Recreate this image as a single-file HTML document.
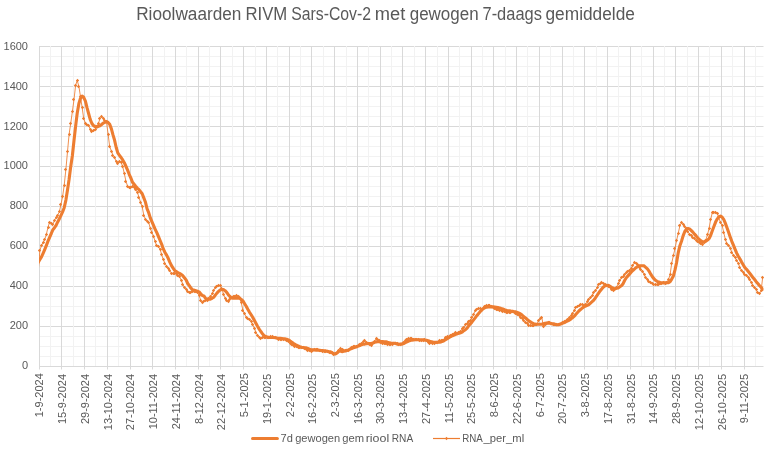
<!DOCTYPE html>
<html lang="nl"><head><meta charset="utf-8"><title>Rioolwaarden RIVM Sars-Cov-2</title>
<style>
html,body{margin:0;padding:0;background:#fff;}
body{width:774px;height:453px;overflow:hidden;}
svg{display:block;font-family:"Liberation Sans",sans-serif;}
.ax{font-size:11px;fill:#595959;}
.ttl{font-size:17.5px;fill:#595959;}
.lg{font-size:11px;fill:#595959;}
</style></head><body>
<svg width="774" height="453" viewBox="0 0 774 453">
<rect width="774" height="453" fill="#fff"/>
<path d="M39 356.5H763.5M39 346.5H763.5M39 336.5H763.5M39 316.5H763.5M39 306.5H763.5M39 296.5H763.5M39 276.5H763.5M39 266.5H763.5M39 256.5H763.5M39 236.5H763.5M39 226.5H763.5M39 216.5H763.5M39 196.5H763.5M39 186.5H763.5M39 176.5H763.5M39 156.5H763.5M39 146.5H763.5M39 136.5H763.5M39 116.5H763.5M39 106.5H763.5M39 96.5H763.5M39 76.5H763.5M39 66.5H763.5M39 56.5H763.5" stroke="#F2F2F2" stroke-width="1" fill="none"/>
<path d="M39 326.5H763.5M39 286.5H763.5M39 246.5H763.5M39 206.5H763.5M39 166.5H763.5M39 126.5H763.5M39 86.5H763.5M39 46.5H763.5" stroke="#D9D9D9" stroke-width="1" fill="none"/>
<path d="M39.5 46.0V369.5M61.5 46.0V369.5M84.5 46.0V369.5M107.5 46.0V369.5M130.5 46.0V369.5M152.5 46.0V369.5M175.5 46.0V369.5M198.5 46.0V369.5M220.5 46.0V369.5M243.5 46.0V369.5M266.5 46.0V369.5M289.5 46.0V369.5M311.5 46.0V369.5M334.5 46.0V369.5M357.5 46.0V369.5M380.5 46.0V369.5M402.5 46.0V369.5M425.5 46.0V369.5M448.5 46.0V369.5M471.5 46.0V369.5M493.5 46.0V369.5M516.5 46.0V369.5M539.5 46.0V369.5M562.5 46.0V369.5M584.5 46.0V369.5M607.5 46.0V369.5M630.5 46.0V369.5M653.5 46.0V369.5M675.5 46.0V369.5M698.5 46.0V369.5M721.5 46.0V369.5M744.5 46.0V369.5" stroke="#D9D9D9" stroke-width="1" fill="none"/>
<path d="M50.5 46.0V366.5M73.5 46.0V366.5M95.5 46.0V366.5M118.5 46.0V366.5M141.5 46.0V366.5M164.5 46.0V366.5M186.5 46.0V366.5M209.5 46.0V366.5M232.5 46.0V366.5M255.5 46.0V366.5M277.5 46.0V366.5M300.5 46.0V366.5M323.5 46.0V366.5M346.5 46.0V366.5M368.5 46.0V366.5M391.5 46.0V366.5M414.5 46.0V366.5M437.5 46.0V366.5M459.5 46.0V366.5M482.5 46.0V366.5M505.5 46.0V366.5M527.5 46.0V366.5M550.5 46.0V366.5M573.5 46.0V366.5M596.5 46.0V366.5M618.5 46.0V366.5M641.5 46.0V366.5M664.5 46.0V366.5M687.5 46.0V366.5M709.5 46.0V366.5M732.5 46.0V366.5M755.5 46.0V366.5" stroke="#F2F2F2" stroke-width="1" fill="none"/>
<path d="M39 366.5H763.5" stroke="#D9D9D9" stroke-width="1" fill="none"/>
<g class="ax" text-anchor="end">
<text x="28" y="368.9">0</text>
<text x="28" y="328.9">200</text>
<text x="28" y="288.9">400</text>
<text x="28" y="248.9">600</text>
<text x="28" y="208.9">800</text>
<text x="28" y="168.9">1000</text>
<text x="28" y="129.9">1200</text>
<text x="28" y="89.9">1400</text>
<text x="28" y="49.9">1600</text>
</g>
<g class="ax" text-anchor="end">
<text transform="translate(43.3 373.2) rotate(-90)">1-9-2024</text>
<text transform="translate(66.1 373.9) rotate(-90)">15-9-2024</text>
<text transform="translate(88.8 373.9) rotate(-90)">29-9-2024</text>
<text transform="translate(111.5 373.9) rotate(-90)">13-10-2024</text>
<text transform="translate(134.3 373.9) rotate(-90)">27-10-2024</text>
<text transform="translate(157.0 373.9) rotate(-90)">10-11-2024</text>
<text transform="translate(179.8 373.9) rotate(-90)">24-11-2024</text>
<text transform="translate(202.5 373.9) rotate(-90)">8-12-2024</text>
<text transform="translate(225.2 373.9) rotate(-90)">22-12-2024</text>
<text transform="translate(248.0 373.2) rotate(-90)">5-1-2025</text>
<text transform="translate(270.7 373.9) rotate(-90)">19-1-2025</text>
<text transform="translate(293.5 373.2) rotate(-90)">2-2-2025</text>
<text transform="translate(316.2 373.9) rotate(-90)">16-2-2025</text>
<text transform="translate(338.9 373.2) rotate(-90)">2-3-2025</text>
<text transform="translate(361.7 373.9) rotate(-90)">16-3-2025</text>
<text transform="translate(384.4 373.9) rotate(-90)">30-3-2025</text>
<text transform="translate(407.2 373.9) rotate(-90)">13-4-2025</text>
<text transform="translate(429.9 373.9) rotate(-90)">27-4-2025</text>
<text transform="translate(452.6 373.9) rotate(-90)">11-5-2025</text>
<text transform="translate(475.4 373.9) rotate(-90)">25-5-2025</text>
<text transform="translate(498.1 373.2) rotate(-90)">8-6-2025</text>
<text transform="translate(520.9 373.9) rotate(-90)">22-6-2025</text>
<text transform="translate(543.6 373.2) rotate(-90)">6-7-2025</text>
<text transform="translate(566.3 373.9) rotate(-90)">20-7-2025</text>
<text transform="translate(589.1 373.2) rotate(-90)">3-8-2025</text>
<text transform="translate(611.8 373.9) rotate(-90)">17-8-2025</text>
<text transform="translate(634.6 373.9) rotate(-90)">31-8-2025</text>
<text transform="translate(657.3 373.9) rotate(-90)">14-9-2025</text>
<text transform="translate(680.0 373.9) rotate(-90)">28-9-2025</text>
<text transform="translate(702.8 373.9) rotate(-90)">12-10-2025</text>
<text transform="translate(725.5 373.9) rotate(-90)">26-10-2025</text>
<text transform="translate(748.3 373.9) rotate(-90)">9-11-2025</text>
</g>
<clipPath id="pa"><rect x="39" y="40" width="724.5" height="330"/></clipPath>
<path clip-path="url(#pa)" d="M38.3 262.3L39.9 259.5L41.5 256.9L43.1 253.3L44.8 249.3L46.4 245.3L48.0 241.1L49.6 237.3L51.3 233.5L52.9 229.7L54.5 227.7L56.1 225.3L57.7 221.9L59.4 218.7L61.0 215.3L62.6 211.9L64.2 207.7L65.9 200.1L67.5 189.9L69.1 179.3L70.7 166.7L72.4 155.5L74.0 140.5L75.6 126.3L77.2 113.3L78.9 103.5L80.5 98.3L82.1 96.1L83.7 97.3L85.4 101.1L87.0 107.7L88.6 113.5L90.2 119.3L91.9 123.5L93.5 125.7L95.1 126.5L96.7 127.1L98.4 126.3L100.0 125.7L101.6 124.5L103.2 123.1L104.9 122.3L106.5 121.7L108.1 122.5L109.7 124.3L111.4 128.9L113.0 134.9L114.6 140.3L116.2 147.5L117.8 152.9L119.5 155.5L121.1 157.5L122.7 159.9L124.3 162.7L126.0 166.5L127.6 170.1L129.2 174.3L130.8 177.9L132.5 182.3L134.1 184.3L135.7 186.3L137.3 188.1L139.0 189.7L140.6 191.7L142.2 193.7L143.8 197.9L145.5 202.3L147.1 208.9L148.7 212.7L150.3 217.9L152.0 221.9L153.6 225.7L155.2 229.3L156.8 232.7L158.5 236.7L160.1 240.5L161.7 244.3L163.3 248.9L165.0 252.5L166.6 255.1L168.2 258.3L169.8 262.1L171.5 265.7L173.1 268.1L174.7 270.5L176.3 271.5L177.9 272.5L179.6 273.5L181.2 274.3L182.8 275.7L184.4 277.7L186.1 279.9L187.7 283.5L189.3 285.7L190.9 288.1L192.6 290.1L194.2 290.1L195.8 290.7L197.4 291.3L199.1 291.9L200.7 293.7L202.3 295.5L203.9 295.9L205.6 298.5L207.2 299.1L208.8 299.3L210.4 299.1L212.1 298.3L213.7 297.3L215.3 295.1L216.9 293.1L218.6 291.3L220.2 289.9L221.8 289.5L223.4 289.5L225.1 290.7L226.7 292.3L228.3 294.7L229.9 296.5L231.5 297.9L233.2 298.3L234.8 298.3L236.4 298.3L238.0 298.3L239.7 298.3L241.3 299.5L242.9 300.9L244.5 303.5L246.2 306.3L247.8 309.3L249.4 312.1L251.0 314.5L252.7 317.3L254.3 320.3L255.9 323.3L257.5 326.3L259.2 329.1L260.8 331.5L262.4 333.7L264.0 335.5L265.7 336.5L267.3 337.1L268.9 337.5L270.5 337.5L272.2 337.5L273.8 337.5L275.4 337.7L277.0 338.1L278.7 338.3L280.3 338.3L281.9 338.5L283.5 338.7L285.2 338.9L286.8 339.3L288.4 339.9L290.0 340.9L291.6 342.1L293.3 343.3L294.9 344.3L296.5 345.3L298.1 345.9L299.8 346.7L301.4 347.3L303.0 347.5L304.6 347.7L306.3 347.9L307.9 348.5L309.5 349.1L311.1 349.7L312.8 349.9L314.4 349.9L316.0 350.1L317.6 350.1L319.3 350.3L320.9 350.5L322.5 350.5L324.1 350.7L325.8 350.9L327.4 351.3L329.0 351.7L330.6 351.9L332.3 352.7L333.9 353.7L335.5 353.9L337.1 352.9L338.8 351.3L340.4 350.9L342.0 351.7L343.6 351.3L345.3 350.9L346.9 350.5L348.5 349.9L350.1 349.1L351.7 348.5L353.4 347.9L355.0 347.3L356.6 346.7L358.2 346.1L359.9 345.5L361.5 344.7L363.1 344.3L364.7 344.1L366.4 343.7L368.0 343.5L369.6 343.5L371.2 343.5L372.9 343.1L374.5 342.3L376.1 341.9L377.7 341.7L379.4 341.7L381.0 341.5L382.6 341.5L384.2 341.7L385.9 341.7L387.5 342.3L389.1 342.7L390.7 343.1L392.4 343.3L394.0 343.3L395.6 343.3L397.2 344.1L398.9 344.3L400.5 344.1L402.1 344.1L403.7 343.5L405.3 342.7L407.0 341.9L408.6 341.1L410.2 340.5L411.8 340.1L413.5 339.9L415.1 339.7L416.7 339.7L418.3 339.7L420.0 339.7L421.6 339.7L423.2 339.7L424.8 340.1L426.5 340.3L428.1 340.7L429.7 341.3L431.3 341.7L433.0 342.1L434.6 342.3L436.2 342.3L437.8 342.3L439.5 342.3L441.1 341.9L442.7 341.3L444.3 340.5L446.0 339.5L447.6 338.5L449.2 337.5L450.8 336.5L452.5 335.7L454.1 335.1L455.7 334.3L457.3 333.7L459.0 333.3L460.6 332.7L462.2 332.1L463.8 330.7L465.4 329.7L467.1 328.1L468.7 325.9L470.3 323.9L471.9 322.1L473.6 319.9L475.2 317.9L476.8 315.7L478.4 313.7L480.1 311.7L481.7 310.1L483.3 308.5L484.9 307.7L486.6 307.1L488.2 306.9L489.8 306.9L491.4 306.9L493.1 306.9L494.7 307.1L496.3 307.3L497.9 307.5L499.6 307.9L501.2 308.5L502.8 308.9L504.4 309.7L506.1 310.3L507.7 310.9L509.3 310.7L510.9 311.1L512.6 311.3L514.2 311.7L515.8 311.9L517.4 312.5L519.1 313.1L520.7 314.1L522.3 315.3L523.9 316.7L525.5 317.9L527.2 319.5L528.8 320.9L530.4 321.9L532.0 322.9L533.7 323.7L535.3 324.1L536.9 324.3L538.5 324.3L540.2 324.3L541.8 324.3L543.4 323.7L545.0 323.3L546.7 323.1L548.3 322.9L549.9 323.3L551.5 323.7L553.2 323.9L554.8 324.1L556.4 324.7L558.0 324.7L559.7 324.3L561.3 323.7L562.9 323.1L564.5 322.5L566.2 321.7L567.8 320.9L569.4 320.1L571.0 318.9L572.7 317.5L574.3 316.1L575.9 314.3L577.5 312.5L579.1 310.7L580.8 309.3L582.4 307.9L584.0 306.7L585.6 306.1L587.3 305.3L588.9 304.5L590.5 303.1L592.1 301.7L593.8 300.1L595.4 297.9L597.0 295.5L598.6 293.1L600.3 290.7L601.9 288.7L603.5 286.9L605.1 285.7L606.8 285.5L608.4 285.3L610.0 286.3L611.6 287.3L613.3 288.3L614.9 288.9L616.5 288.3L618.1 287.9L619.8 286.7L621.4 285.7L623.0 283.9L624.6 280.5L626.3 277.7L627.9 275.9L629.5 274.1L631.1 272.3L632.8 270.5L634.4 269.1L636.0 267.7L637.6 266.5L639.2 265.9L640.9 265.7L642.5 265.7L644.1 265.9L645.7 267.3L647.4 268.9L649.0 271.1L650.6 273.9L652.2 276.5L653.9 278.7L655.5 280.3L657.1 281.3L658.7 282.1L660.4 282.5L662.0 282.7L663.6 282.9L665.2 282.9L666.9 282.7L668.5 282.7L670.1 281.7L671.7 279.1L673.4 275.9L675.0 269.9L676.6 262.5L678.2 252.9L679.9 245.7L681.5 241.3L683.1 235.9L684.7 231.7L686.4 229.1L688.0 228.5L689.6 228.9L691.2 230.5L692.9 232.1L694.5 234.1L696.1 235.9L697.7 237.9L699.3 239.5L701.0 240.9L702.6 241.9L704.2 241.7L705.8 241.3L707.5 240.1L709.1 238.5L710.7 235.3L712.3 230.7L714.0 226.3L715.6 222.1L717.2 219.1L718.8 216.9L720.5 216.1L722.1 217.1L723.7 219.3L725.3 223.1L727.0 227.7L728.6 232.3L730.2 236.9L731.8 241.3L733.5 245.3L735.1 249.3L736.7 253.1L738.3 256.3L740.0 259.1L741.6 262.1L743.2 264.7L744.8 267.5L746.5 269.3L748.1 271.3L749.7 273.3L751.3 275.3L752.9 277.5L754.6 279.5L756.2 281.7L757.8 283.5L759.4 285.5L761.1 287.3L762.7 289.3" stroke="#ED7D31" stroke-width="3.1" fill="none" stroke-linejoin="round" stroke-linecap="round"/>
<path clip-path="url(#pa)" d="M38.3 270.5L39.9 250.5L41.5 245.5L43.1 242.3L44.8 239.3L46.4 234.3L48.0 227.1L49.6 222.3L51.3 223.1L52.9 224.5L54.5 220.3L56.1 217.3L57.7 215.1L59.4 211.7L61.0 204.3L62.6 196.5L64.2 185.3L65.9 169.3L67.5 151.5L69.1 134.3L70.7 123.5L72.4 111.5L74.0 99.5L75.6 85.5L77.2 80.3L78.9 86.5L80.5 96.7L82.1 107.3L83.7 118.5L85.4 123.3L87.0 124.5L88.6 125.3L90.2 129.1L91.9 131.9L93.5 130.7L95.1 129.3L96.7 126.5L98.4 123.5L100.0 118.5L101.6 116.9L103.2 118.3L104.9 120.1L106.5 121.9L108.1 134.3L109.7 146.5L111.4 151.1L113.0 155.3L114.6 157.3L116.2 161.9L117.8 163.5L119.5 161.1L121.1 162.5L122.7 166.5L124.3 173.5L126.0 181.5L127.6 186.1L129.2 187.3L130.8 187.7L132.5 186.1L134.1 187.1L135.7 189.3L137.3 192.1L139.0 197.3L140.6 202.5L142.2 206.9L143.8 215.3L145.5 219.5L147.1 221.1L148.7 222.3L150.3 228.5L152.0 232.5L153.6 236.3L155.2 241.9L156.8 245.9L158.5 246.9L160.1 249.3L161.7 254.7L163.3 259.7L165.0 263.5L166.6 266.1L168.2 268.7L169.8 270.7L171.5 273.3L173.1 273.7L174.7 273.5L176.3 273.5L177.9 275.1L179.6 276.9L181.2 280.1L182.8 284.3L184.4 287.3L186.1 289.5L187.7 291.3L189.3 292.7L190.9 292.5L192.6 291.5L194.2 291.1L195.8 291.9L197.4 292.5L199.1 295.5L200.7 300.3L202.3 302.9L203.9 301.3L205.6 300.5L207.2 300.1L208.8 298.5L210.4 296.9L212.1 293.9L213.7 290.5L215.3 287.3L216.9 286.1L218.6 285.7L220.2 285.9L221.8 288.3L223.4 294.1L225.1 298.1L226.7 300.3L228.3 301.7L229.9 299.3L231.5 297.5L233.2 296.7L234.8 296.1L236.4 295.9L238.0 296.5L239.7 297.7L241.3 302.9L242.9 310.1L244.5 313.7L246.2 317.1L247.8 318.7L249.4 319.7L251.0 321.5L252.7 324.5L254.3 328.1L255.9 332.3L257.5 335.1L259.2 337.1L260.8 338.1L262.4 337.7L264.0 337.5L265.7 337.5L267.3 337.3L268.9 337.1L270.5 336.9L272.2 336.7L273.8 337.1L275.4 337.9L277.0 338.7L278.7 339.3L280.3 339.3L281.9 339.3L283.5 339.3L285.2 339.7L286.8 340.3L288.4 341.9L290.0 343.3L291.6 344.9L293.3 345.7L294.9 346.3L296.5 346.9L298.1 347.9L299.8 347.7L301.4 347.5L303.0 347.5L304.6 348.1L306.3 349.3L307.9 350.5L309.5 350.7L311.1 351.1L312.8 350.5L314.4 349.7L316.0 349.1L317.6 349.1L319.3 350.1L320.9 350.7L322.5 351.1L324.1 351.3L325.8 351.3L327.4 351.9L329.0 352.5L330.6 352.9L332.3 353.9L333.9 354.3L335.5 353.9L337.1 352.3L338.8 350.7L340.4 348.9L342.0 349.3L343.6 350.1L345.3 350.1L346.9 350.1L348.5 350.1L350.1 348.9L351.7 347.7L353.4 346.3L355.0 346.7L356.6 346.9L358.2 345.9L359.9 344.9L361.5 343.7L363.1 341.9L364.7 340.9L366.4 342.1L368.0 343.1L369.6 344.1L371.2 345.7L372.9 343.9L374.5 341.3L376.1 338.9L377.7 339.7L379.4 340.9L381.0 342.3L382.6 343.5L384.2 343.7L385.9 343.7L387.5 344.1L389.1 344.5L390.7 344.7L392.4 344.3L394.0 343.9L395.6 343.7L397.2 343.7L398.9 344.5L400.5 344.3L402.1 343.7L403.7 342.5L405.3 340.9L407.0 339.7L408.6 338.9L410.2 338.3L411.8 338.3L413.5 339.1L415.1 339.5L416.7 339.5L418.3 339.9L420.0 340.5L421.6 340.9L423.2 340.3L424.8 339.7L426.5 340.9L428.1 342.3L429.7 343.7L431.3 342.9L433.0 343.3L434.6 343.5L436.2 342.9L437.8 342.1L439.5 340.9L441.1 340.5L442.7 340.1L444.3 339.1L446.0 337.7L447.6 336.9L449.2 336.1L450.8 335.1L452.5 334.1L454.1 333.3L455.7 332.9L457.3 333.1L459.0 332.7L460.6 331.3L462.2 328.5L463.8 327.7L465.4 324.9L467.1 323.3L468.7 321.7L470.3 320.5L471.9 317.9L473.6 314.5L475.2 310.3L476.8 309.3L478.4 308.3L480.1 308.9L481.7 309.3L483.3 308.5L484.9 306.9L486.6 305.7L488.2 305.7L489.8 305.5L491.4 306.5L493.1 307.3L494.7 308.3L496.3 309.3L497.9 309.9L499.6 310.3L501.2 310.7L502.8 311.1L504.4 311.5L506.1 312.1L507.7 312.5L509.3 312.3L510.9 312.3L512.6 311.9L514.2 312.1L515.8 313.1L517.4 314.1L519.1 315.5L520.7 317.1L522.3 318.7L523.9 320.5L525.5 322.3L527.2 323.7L528.8 325.1L530.4 325.9L532.0 325.9L533.7 325.5L535.3 324.9L536.9 324.5L538.5 320.5L540.2 318.9L541.8 317.1L543.4 326.7L545.0 324.9L546.7 323.5L548.3 322.1L549.9 322.1L551.5 323.7L553.2 324.9L554.8 324.9L556.4 324.9L558.0 324.9L559.7 324.3L561.3 323.5L562.9 322.7L564.5 321.9L566.2 320.5L567.8 319.1L569.4 317.7L571.0 315.5L572.7 313.1L574.3 310.3L575.9 307.9L577.5 306.3L579.1 305.3L580.8 304.5L582.4 304.5L584.0 305.3L585.6 304.5L587.3 301.7L588.9 299.7L590.5 297.7L592.1 295.5L593.8 292.1L595.4 290.3L597.0 287.9L598.6 284.3L600.3 283.3L601.9 282.9L603.5 283.7L605.1 284.7L606.8 285.5L608.4 286.1L610.0 287.1L611.6 289.1L613.3 290.5L614.9 289.7L616.5 287.5L618.1 283.9L619.8 280.5L621.4 277.9L623.0 276.7L624.6 274.1L626.3 272.9L627.9 271.3L629.5 270.5L631.1 268.7L632.8 265.5L634.4 262.9L636.0 263.1L637.6 264.9L639.2 267.1L640.9 269.1L642.5 271.1L644.1 274.5L645.7 277.3L647.4 279.5L649.0 281.1L650.6 282.1L652.2 283.3L653.9 284.3L655.5 284.9L657.1 284.9L658.7 284.5L660.4 283.9L662.0 283.1L663.6 282.7L665.2 283.1L666.9 282.1L668.5 279.5L670.1 274.7L671.7 263.3L673.4 255.3L675.0 248.9L676.6 240.3L678.2 233.5L679.9 225.7L681.5 222.9L683.1 224.3L684.7 226.1L686.4 228.7L688.0 231.9L689.6 234.1L691.2 235.9L692.9 237.5L694.5 238.9L696.1 240.3L697.7 241.5L699.3 242.5L701.0 243.5L702.6 244.1L704.2 242.3L705.8 240.1L707.5 234.7L709.1 228.3L710.7 219.3L712.3 212.7L714.0 212.3L715.6 212.1L717.2 213.1L718.8 217.7L720.5 222.7L722.1 225.3L723.7 232.3L725.3 239.3L727.0 243.9L728.6 245.9L730.2 248.1L731.8 252.3L733.5 255.1L735.1 257.9L736.7 260.3L738.3 263.1L740.0 267.9L741.6 270.3L743.2 272.3L744.8 274.3L746.5 275.9L748.1 277.3L749.7 279.5L751.3 282.3L752.9 285.1L754.6 287.3L756.2 289.9L757.8 292.5L759.4 293.3L761.1 290.9L762.7 277.3" stroke="#ED7D31" stroke-width="1" stroke-opacity="0.85" fill="none" stroke-linejoin="round"/>
<path d="M39.5 248.85l1.65 1.65l-1.65 1.65l-1.65 -1.65zM41.5 243.85l1.65 1.65l-1.65 1.65l-1.65 -1.65zM43.5 240.85l1.65 1.65l-1.65 1.65l-1.65 -1.65zM44.5 237.85l1.65 1.65l-1.65 1.65l-1.65 -1.65zM46.5 232.85l1.65 1.65l-1.65 1.65l-1.65 -1.65zM48.5 225.85l1.65 1.65l-1.65 1.65l-1.65 -1.65zM49.5 220.85l1.65 1.65l-1.65 1.65l-1.65 -1.65zM51.5 221.85l1.65 1.65l-1.65 1.65l-1.65 -1.65zM52.5 222.85l1.65 1.65l-1.65 1.65l-1.65 -1.65zM54.5 218.85l1.65 1.65l-1.65 1.65l-1.65 -1.65zM56.5 215.85l1.65 1.65l-1.65 1.65l-1.65 -1.65zM57.5 213.85l1.65 1.65l-1.65 1.65l-1.65 -1.65zM59.5 209.85l1.65 1.65l-1.65 1.65l-1.65 -1.65zM60.5 202.85l1.65 1.65l-1.65 1.65l-1.65 -1.65zM62.5 194.85l1.65 1.65l-1.65 1.65l-1.65 -1.65zM64.5 183.85l1.65 1.65l-1.65 1.65l-1.65 -1.65zM65.5 167.85l1.65 1.65l-1.65 1.65l-1.65 -1.65zM67.5 149.85l1.65 1.65l-1.65 1.65l-1.65 -1.65zM69.5 132.85l1.65 1.65l-1.65 1.65l-1.65 -1.65zM70.5 121.85l1.65 1.65l-1.65 1.65l-1.65 -1.65zM72.5 109.85l1.65 1.65l-1.65 1.65l-1.65 -1.65zM73.5 97.85l1.65 1.65l-1.65 1.65l-1.65 -1.65zM75.5 83.85l1.65 1.65l-1.65 1.65l-1.65 -1.65zM77.5 78.85l1.65 1.65l-1.65 1.65l-1.65 -1.65zM78.5 84.85l1.65 1.65l-1.65 1.65l-1.65 -1.65zM80.5 94.85l1.65 1.65l-1.65 1.65l-1.65 -1.65zM82.5 105.85l1.65 1.65l-1.65 1.65l-1.65 -1.65zM83.5 116.85l1.65 1.65l-1.65 1.65l-1.65 -1.65zM85.5 121.85l1.65 1.65l-1.65 1.65l-1.65 -1.65zM86.5 122.85l1.65 1.65l-1.65 1.65l-1.65 -1.65zM88.5 123.85l1.65 1.65l-1.65 1.65l-1.65 -1.65zM90.5 127.85l1.65 1.65l-1.65 1.65l-1.65 -1.65zM91.5 129.85l1.65 1.65l-1.65 1.65l-1.65 -1.65zM93.5 128.85l1.65 1.65l-1.65 1.65l-1.65 -1.65zM95.5 127.85l1.65 1.65l-1.65 1.65l-1.65 -1.65zM96.5 124.85l1.65 1.65l-1.65 1.65l-1.65 -1.65zM98.5 121.85l1.65 1.65l-1.65 1.65l-1.65 -1.65zM99.5 116.85l1.65 1.65l-1.65 1.65l-1.65 -1.65zM101.5 114.85l1.65 1.65l-1.65 1.65l-1.65 -1.65zM103.5 116.85l1.65 1.65l-1.65 1.65l-1.65 -1.65zM104.5 118.85l1.65 1.65l-1.65 1.65l-1.65 -1.65zM106.5 119.85l1.65 1.65l-1.65 1.65l-1.65 -1.65zM108.5 132.85l1.65 1.65l-1.65 1.65l-1.65 -1.65zM109.5 144.85l1.65 1.65l-1.65 1.65l-1.65 -1.65zM111.5 149.85l1.65 1.65l-1.65 1.65l-1.65 -1.65zM112.5 153.85l1.65 1.65l-1.65 1.65l-1.65 -1.65zM114.5 155.85l1.65 1.65l-1.65 1.65l-1.65 -1.65zM116.5 159.85l1.65 1.65l-1.65 1.65l-1.65 -1.65zM117.5 161.85l1.65 1.65l-1.65 1.65l-1.65 -1.65zM119.5 159.85l1.65 1.65l-1.65 1.65l-1.65 -1.65zM121.5 160.85l1.65 1.65l-1.65 1.65l-1.65 -1.65zM122.5 164.85l1.65 1.65l-1.65 1.65l-1.65 -1.65zM124.5 171.85l1.65 1.65l-1.65 1.65l-1.65 -1.65zM125.5 179.85l1.65 1.65l-1.65 1.65l-1.65 -1.65zM127.5 184.85l1.65 1.65l-1.65 1.65l-1.65 -1.65zM129.5 185.85l1.65 1.65l-1.65 1.65l-1.65 -1.65zM130.5 185.85l1.65 1.65l-1.65 1.65l-1.65 -1.65zM132.5 184.85l1.65 1.65l-1.65 1.65l-1.65 -1.65zM134.5 185.85l1.65 1.65l-1.65 1.65l-1.65 -1.65zM135.5 187.85l1.65 1.65l-1.65 1.65l-1.65 -1.65zM137.5 190.85l1.65 1.65l-1.65 1.65l-1.65 -1.65zM138.5 195.85l1.65 1.65l-1.65 1.65l-1.65 -1.65zM140.5 200.85l1.65 1.65l-1.65 1.65l-1.65 -1.65zM142.5 204.85l1.65 1.65l-1.65 1.65l-1.65 -1.65zM143.5 213.85l1.65 1.65l-1.65 1.65l-1.65 -1.65zM145.5 217.85l1.65 1.65l-1.65 1.65l-1.65 -1.65zM147.5 219.85l1.65 1.65l-1.65 1.65l-1.65 -1.65zM148.5 220.85l1.65 1.65l-1.65 1.65l-1.65 -1.65zM150.5 226.85l1.65 1.65l-1.65 1.65l-1.65 -1.65zM151.5 230.85l1.65 1.65l-1.65 1.65l-1.65 -1.65zM153.5 234.85l1.65 1.65l-1.65 1.65l-1.65 -1.65zM155.5 239.85l1.65 1.65l-1.65 1.65l-1.65 -1.65zM156.5 243.85l1.65 1.65l-1.65 1.65l-1.65 -1.65zM158.5 244.85l1.65 1.65l-1.65 1.65l-1.65 -1.65zM160.5 247.85l1.65 1.65l-1.65 1.65l-1.65 -1.65zM161.5 252.85l1.65 1.65l-1.65 1.65l-1.65 -1.65zM163.5 257.85l1.65 1.65l-1.65 1.65l-1.65 -1.65zM164.5 261.85l1.65 1.65l-1.65 1.65l-1.65 -1.65zM166.5 264.85l1.65 1.65l-1.65 1.65l-1.65 -1.65zM168.5 266.85l1.65 1.65l-1.65 1.65l-1.65 -1.65zM169.5 268.85l1.65 1.65l-1.65 1.65l-1.65 -1.65zM171.5 271.85l1.65 1.65l-1.65 1.65l-1.65 -1.65zM173.5 271.85l1.65 1.65l-1.65 1.65l-1.65 -1.65zM174.5 271.85l1.65 1.65l-1.65 1.65l-1.65 -1.65zM176.5 271.85l1.65 1.65l-1.65 1.65l-1.65 -1.65zM177.5 273.85l1.65 1.65l-1.65 1.65l-1.65 -1.65zM179.5 274.85l1.65 1.65l-1.65 1.65l-1.65 -1.65zM181.5 278.85l1.65 1.65l-1.65 1.65l-1.65 -1.65zM182.5 282.85l1.65 1.65l-1.65 1.65l-1.65 -1.65zM184.5 285.85l1.65 1.65l-1.65 1.65l-1.65 -1.65zM186.5 287.85l1.65 1.65l-1.65 1.65l-1.65 -1.65zM187.5 289.85l1.65 1.65l-1.65 1.65l-1.65 -1.65zM189.5 290.85l1.65 1.65l-1.65 1.65l-1.65 -1.65zM190.5 290.85l1.65 1.65l-1.65 1.65l-1.65 -1.65zM192.5 289.85l1.65 1.65l-1.65 1.65l-1.65 -1.65zM194.5 289.85l1.65 1.65l-1.65 1.65l-1.65 -1.65zM195.5 289.85l1.65 1.65l-1.65 1.65l-1.65 -1.65zM197.5 290.85l1.65 1.65l-1.65 1.65l-1.65 -1.65zM199.5 293.85l1.65 1.65l-1.65 1.65l-1.65 -1.65zM200.5 298.85l1.65 1.65l-1.65 1.65l-1.65 -1.65zM202.5 300.85l1.65 1.65l-1.65 1.65l-1.65 -1.65zM203.5 299.85l1.65 1.65l-1.65 1.65l-1.65 -1.65zM205.5 298.85l1.65 1.65l-1.65 1.65l-1.65 -1.65zM207.5 298.85l1.65 1.65l-1.65 1.65l-1.65 -1.65zM208.5 296.85l1.65 1.65l-1.65 1.65l-1.65 -1.65zM210.5 294.85l1.65 1.65l-1.65 1.65l-1.65 -1.65zM212.5 291.85l1.65 1.65l-1.65 1.65l-1.65 -1.65zM213.5 288.85l1.65 1.65l-1.65 1.65l-1.65 -1.65zM215.5 285.85l1.65 1.65l-1.65 1.65l-1.65 -1.65zM216.5 284.85l1.65 1.65l-1.65 1.65l-1.65 -1.65zM218.5 283.85l1.65 1.65l-1.65 1.65l-1.65 -1.65zM220.5 283.85l1.65 1.65l-1.65 1.65l-1.65 -1.65zM221.5 286.85l1.65 1.65l-1.65 1.65l-1.65 -1.65zM223.5 292.85l1.65 1.65l-1.65 1.65l-1.65 -1.65zM225.5 296.85l1.65 1.65l-1.65 1.65l-1.65 -1.65zM226.5 298.85l1.65 1.65l-1.65 1.65l-1.65 -1.65zM228.5 299.85l1.65 1.65l-1.65 1.65l-1.65 -1.65zM229.5 297.85l1.65 1.65l-1.65 1.65l-1.65 -1.65zM231.5 295.85l1.65 1.65l-1.65 1.65l-1.65 -1.65zM233.5 294.85l1.65 1.65l-1.65 1.65l-1.65 -1.65zM234.5 294.85l1.65 1.65l-1.65 1.65l-1.65 -1.65zM236.5 293.85l1.65 1.65l-1.65 1.65l-1.65 -1.65zM238.5 294.85l1.65 1.65l-1.65 1.65l-1.65 -1.65zM239.5 295.85l1.65 1.65l-1.65 1.65l-1.65 -1.65zM241.5 300.85l1.65 1.65l-1.65 1.65l-1.65 -1.65zM242.5 308.85l1.65 1.65l-1.65 1.65l-1.65 -1.65zM244.5 311.85l1.65 1.65l-1.65 1.65l-1.65 -1.65zM246.5 315.85l1.65 1.65l-1.65 1.65l-1.65 -1.65zM247.5 316.85l1.65 1.65l-1.65 1.65l-1.65 -1.65zM249.5 317.85l1.65 1.65l-1.65 1.65l-1.65 -1.65zM251.5 319.85l1.65 1.65l-1.65 1.65l-1.65 -1.65zM252.5 322.85l1.65 1.65l-1.65 1.65l-1.65 -1.65zM254.5 326.85l1.65 1.65l-1.65 1.65l-1.65 -1.65zM255.5 330.85l1.65 1.65l-1.65 1.65l-1.65 -1.65zM257.5 333.85l1.65 1.65l-1.65 1.65l-1.65 -1.65zM259.5 335.85l1.65 1.65l-1.65 1.65l-1.65 -1.65zM260.5 336.85l1.65 1.65l-1.65 1.65l-1.65 -1.65zM262.5 335.85l1.65 1.65l-1.65 1.65l-1.65 -1.65zM264.5 335.85l1.65 1.65l-1.65 1.65l-1.65 -1.65zM265.5 335.85l1.65 1.65l-1.65 1.65l-1.65 -1.65zM267.5 335.85l1.65 1.65l-1.65 1.65l-1.65 -1.65zM268.5 335.85l1.65 1.65l-1.65 1.65l-1.65 -1.65zM270.5 334.85l1.65 1.65l-1.65 1.65l-1.65 -1.65zM272.5 334.85l1.65 1.65l-1.65 1.65l-1.65 -1.65zM273.5 335.85l1.65 1.65l-1.65 1.65l-1.65 -1.65zM275.5 335.85l1.65 1.65l-1.65 1.65l-1.65 -1.65zM277.5 336.85l1.65 1.65l-1.65 1.65l-1.65 -1.65zM278.5 337.85l1.65 1.65l-1.65 1.65l-1.65 -1.65zM280.5 337.85l1.65 1.65l-1.65 1.65l-1.65 -1.65zM281.5 337.85l1.65 1.65l-1.65 1.65l-1.65 -1.65zM283.5 337.85l1.65 1.65l-1.65 1.65l-1.65 -1.65zM285.5 337.85l1.65 1.65l-1.65 1.65l-1.65 -1.65zM286.5 338.85l1.65 1.65l-1.65 1.65l-1.65 -1.65zM288.5 339.85l1.65 1.65l-1.65 1.65l-1.65 -1.65zM290.5 341.85l1.65 1.65l-1.65 1.65l-1.65 -1.65zM291.5 342.85l1.65 1.65l-1.65 1.65l-1.65 -1.65zM293.5 343.85l1.65 1.65l-1.65 1.65l-1.65 -1.65zM294.5 344.85l1.65 1.65l-1.65 1.65l-1.65 -1.65zM296.5 344.85l1.65 1.65l-1.65 1.65l-1.65 -1.65zM298.5 345.85l1.65 1.65l-1.65 1.65l-1.65 -1.65zM299.5 345.85l1.65 1.65l-1.65 1.65l-1.65 -1.65zM301.5 345.85l1.65 1.65l-1.65 1.65l-1.65 -1.65zM303.5 345.85l1.65 1.65l-1.65 1.65l-1.65 -1.65zM304.5 346.85l1.65 1.65l-1.65 1.65l-1.65 -1.65zM306.5 347.85l1.65 1.65l-1.65 1.65l-1.65 -1.65zM307.5 348.85l1.65 1.65l-1.65 1.65l-1.65 -1.65zM309.5 348.85l1.65 1.65l-1.65 1.65l-1.65 -1.65zM311.5 349.85l1.65 1.65l-1.65 1.65l-1.65 -1.65zM312.5 348.85l1.65 1.65l-1.65 1.65l-1.65 -1.65zM314.5 347.85l1.65 1.65l-1.65 1.65l-1.65 -1.65zM316.5 347.85l1.65 1.65l-1.65 1.65l-1.65 -1.65zM317.5 347.85l1.65 1.65l-1.65 1.65l-1.65 -1.65zM319.5 348.85l1.65 1.65l-1.65 1.65l-1.65 -1.65zM320.5 348.85l1.65 1.65l-1.65 1.65l-1.65 -1.65zM322.5 349.85l1.65 1.65l-1.65 1.65l-1.65 -1.65zM324.5 349.85l1.65 1.65l-1.65 1.65l-1.65 -1.65zM325.5 349.85l1.65 1.65l-1.65 1.65l-1.65 -1.65zM327.5 349.85l1.65 1.65l-1.65 1.65l-1.65 -1.65zM329.5 350.85l1.65 1.65l-1.65 1.65l-1.65 -1.65zM330.5 350.85l1.65 1.65l-1.65 1.65l-1.65 -1.65zM332.5 351.85l1.65 1.65l-1.65 1.65l-1.65 -1.65zM333.5 352.85l1.65 1.65l-1.65 1.65l-1.65 -1.65zM335.5 351.85l1.65 1.65l-1.65 1.65l-1.65 -1.65zM337.5 350.85l1.65 1.65l-1.65 1.65l-1.65 -1.65zM338.5 348.85l1.65 1.65l-1.65 1.65l-1.65 -1.65zM340.5 346.85l1.65 1.65l-1.65 1.65l-1.65 -1.65zM342.5 347.85l1.65 1.65l-1.65 1.65l-1.65 -1.65zM343.5 348.85l1.65 1.65l-1.65 1.65l-1.65 -1.65zM345.5 348.85l1.65 1.65l-1.65 1.65l-1.65 -1.65zM346.5 348.85l1.65 1.65l-1.65 1.65l-1.65 -1.65zM348.5 348.85l1.65 1.65l-1.65 1.65l-1.65 -1.65zM350.5 346.85l1.65 1.65l-1.65 1.65l-1.65 -1.65zM351.5 345.85l1.65 1.65l-1.65 1.65l-1.65 -1.65zM353.5 344.85l1.65 1.65l-1.65 1.65l-1.65 -1.65zM354.5 344.85l1.65 1.65l-1.65 1.65l-1.65 -1.65zM356.5 344.85l1.65 1.65l-1.65 1.65l-1.65 -1.65zM358.5 343.85l1.65 1.65l-1.65 1.65l-1.65 -1.65zM359.5 342.85l1.65 1.65l-1.65 1.65l-1.65 -1.65zM361.5 341.85l1.65 1.65l-1.65 1.65l-1.65 -1.65zM363.5 339.85l1.65 1.65l-1.65 1.65l-1.65 -1.65zM364.5 338.85l1.65 1.65l-1.65 1.65l-1.65 -1.65zM366.5 340.85l1.65 1.65l-1.65 1.65l-1.65 -1.65zM367.5 341.85l1.65 1.65l-1.65 1.65l-1.65 -1.65zM369.5 342.85l1.65 1.65l-1.65 1.65l-1.65 -1.65zM371.5 343.85l1.65 1.65l-1.65 1.65l-1.65 -1.65zM372.5 341.85l1.65 1.65l-1.65 1.65l-1.65 -1.65zM374.5 339.85l1.65 1.65l-1.65 1.65l-1.65 -1.65zM376.5 336.85l1.65 1.65l-1.65 1.65l-1.65 -1.65zM377.5 337.85l1.65 1.65l-1.65 1.65l-1.65 -1.65zM379.5 338.85l1.65 1.65l-1.65 1.65l-1.65 -1.65zM380.5 340.85l1.65 1.65l-1.65 1.65l-1.65 -1.65zM382.5 341.85l1.65 1.65l-1.65 1.65l-1.65 -1.65zM384.5 341.85l1.65 1.65l-1.65 1.65l-1.65 -1.65zM385.5 341.85l1.65 1.65l-1.65 1.65l-1.65 -1.65zM387.5 342.85l1.65 1.65l-1.65 1.65l-1.65 -1.65zM389.5 342.85l1.65 1.65l-1.65 1.65l-1.65 -1.65zM390.5 342.85l1.65 1.65l-1.65 1.65l-1.65 -1.65zM392.5 342.85l1.65 1.65l-1.65 1.65l-1.65 -1.65zM393.5 341.85l1.65 1.65l-1.65 1.65l-1.65 -1.65zM395.5 341.85l1.65 1.65l-1.65 1.65l-1.65 -1.65zM397.5 341.85l1.65 1.65l-1.65 1.65l-1.65 -1.65zM398.5 342.85l1.65 1.65l-1.65 1.65l-1.65 -1.65zM400.5 342.85l1.65 1.65l-1.65 1.65l-1.65 -1.65zM402.5 341.85l1.65 1.65l-1.65 1.65l-1.65 -1.65zM403.5 340.85l1.65 1.65l-1.65 1.65l-1.65 -1.65zM405.5 338.85l1.65 1.65l-1.65 1.65l-1.65 -1.65zM406.5 337.85l1.65 1.65l-1.65 1.65l-1.65 -1.65zM408.5 336.85l1.65 1.65l-1.65 1.65l-1.65 -1.65zM410.5 336.85l1.65 1.65l-1.65 1.65l-1.65 -1.65zM411.5 336.85l1.65 1.65l-1.65 1.65l-1.65 -1.65zM413.5 337.85l1.65 1.65l-1.65 1.65l-1.65 -1.65zM415.5 337.85l1.65 1.65l-1.65 1.65l-1.65 -1.65zM416.5 337.85l1.65 1.65l-1.65 1.65l-1.65 -1.65zM418.5 337.85l1.65 1.65l-1.65 1.65l-1.65 -1.65zM419.5 338.85l1.65 1.65l-1.65 1.65l-1.65 -1.65zM421.5 338.85l1.65 1.65l-1.65 1.65l-1.65 -1.65zM423.5 338.85l1.65 1.65l-1.65 1.65l-1.65 -1.65zM424.5 337.85l1.65 1.65l-1.65 1.65l-1.65 -1.65zM426.5 338.85l1.65 1.65l-1.65 1.65l-1.65 -1.65zM428.5 340.85l1.65 1.65l-1.65 1.65l-1.65 -1.65zM429.5 341.85l1.65 1.65l-1.65 1.65l-1.65 -1.65zM431.5 340.85l1.65 1.65l-1.65 1.65l-1.65 -1.65zM432.5 341.85l1.65 1.65l-1.65 1.65l-1.65 -1.65zM434.5 341.85l1.65 1.65l-1.65 1.65l-1.65 -1.65zM436.5 340.85l1.65 1.65l-1.65 1.65l-1.65 -1.65zM437.5 340.85l1.65 1.65l-1.65 1.65l-1.65 -1.65zM439.5 338.85l1.65 1.65l-1.65 1.65l-1.65 -1.65zM441.5 338.85l1.65 1.65l-1.65 1.65l-1.65 -1.65zM442.5 338.85l1.65 1.65l-1.65 1.65l-1.65 -1.65zM444.5 337.85l1.65 1.65l-1.65 1.65l-1.65 -1.65zM445.5 335.85l1.65 1.65l-1.65 1.65l-1.65 -1.65zM447.5 334.85l1.65 1.65l-1.65 1.65l-1.65 -1.65zM449.5 334.85l1.65 1.65l-1.65 1.65l-1.65 -1.65zM450.5 333.85l1.65 1.65l-1.65 1.65l-1.65 -1.65zM452.5 332.85l1.65 1.65l-1.65 1.65l-1.65 -1.65zM454.5 331.85l1.65 1.65l-1.65 1.65l-1.65 -1.65zM455.5 330.85l1.65 1.65l-1.65 1.65l-1.65 -1.65zM457.5 331.85l1.65 1.65l-1.65 1.65l-1.65 -1.65zM458.5 330.85l1.65 1.65l-1.65 1.65l-1.65 -1.65zM460.5 329.85l1.65 1.65l-1.65 1.65l-1.65 -1.65zM462.5 326.85l1.65 1.65l-1.65 1.65l-1.65 -1.65zM463.5 325.85l1.65 1.65l-1.65 1.65l-1.65 -1.65zM465.5 322.85l1.65 1.65l-1.65 1.65l-1.65 -1.65zM467.5 321.85l1.65 1.65l-1.65 1.65l-1.65 -1.65zM468.5 319.85l1.65 1.65l-1.65 1.65l-1.65 -1.65zM470.5 318.85l1.65 1.65l-1.65 1.65l-1.65 -1.65zM471.5 315.85l1.65 1.65l-1.65 1.65l-1.65 -1.65zM473.5 312.85l1.65 1.65l-1.65 1.65l-1.65 -1.65zM475.5 308.85l1.65 1.65l-1.65 1.65l-1.65 -1.65zM476.5 307.85l1.65 1.65l-1.65 1.65l-1.65 -1.65zM478.5 306.85l1.65 1.65l-1.65 1.65l-1.65 -1.65zM480.5 306.85l1.65 1.65l-1.65 1.65l-1.65 -1.65zM481.5 307.85l1.65 1.65l-1.65 1.65l-1.65 -1.65zM483.5 306.85l1.65 1.65l-1.65 1.65l-1.65 -1.65zM484.5 304.85l1.65 1.65l-1.65 1.65l-1.65 -1.65zM486.5 303.85l1.65 1.65l-1.65 1.65l-1.65 -1.65zM488.5 303.85l1.65 1.65l-1.65 1.65l-1.65 -1.65zM489.5 303.85l1.65 1.65l-1.65 1.65l-1.65 -1.65zM491.5 304.85l1.65 1.65l-1.65 1.65l-1.65 -1.65zM493.5 305.85l1.65 1.65l-1.65 1.65l-1.65 -1.65zM494.5 306.85l1.65 1.65l-1.65 1.65l-1.65 -1.65zM496.5 307.85l1.65 1.65l-1.65 1.65l-1.65 -1.65zM497.5 307.85l1.65 1.65l-1.65 1.65l-1.65 -1.65zM499.5 308.85l1.65 1.65l-1.65 1.65l-1.65 -1.65zM501.5 308.85l1.65 1.65l-1.65 1.65l-1.65 -1.65zM502.5 309.85l1.65 1.65l-1.65 1.65l-1.65 -1.65zM504.5 309.85l1.65 1.65l-1.65 1.65l-1.65 -1.65zM506.5 310.85l1.65 1.65l-1.65 1.65l-1.65 -1.65zM507.5 310.85l1.65 1.65l-1.65 1.65l-1.65 -1.65zM509.5 310.85l1.65 1.65l-1.65 1.65l-1.65 -1.65zM510.5 310.85l1.65 1.65l-1.65 1.65l-1.65 -1.65zM512.5 309.85l1.65 1.65l-1.65 1.65l-1.65 -1.65zM514.5 310.85l1.65 1.65l-1.65 1.65l-1.65 -1.65zM515.5 311.85l1.65 1.65l-1.65 1.65l-1.65 -1.65zM517.5 312.85l1.65 1.65l-1.65 1.65l-1.65 -1.65zM519.5 313.85l1.65 1.65l-1.65 1.65l-1.65 -1.65zM520.5 315.85l1.65 1.65l-1.65 1.65l-1.65 -1.65zM522.5 316.85l1.65 1.65l-1.65 1.65l-1.65 -1.65zM523.5 318.85l1.65 1.65l-1.65 1.65l-1.65 -1.65zM525.5 320.85l1.65 1.65l-1.65 1.65l-1.65 -1.65zM527.5 321.85l1.65 1.65l-1.65 1.65l-1.65 -1.65zM528.5 323.85l1.65 1.65l-1.65 1.65l-1.65 -1.65zM530.5 323.85l1.65 1.65l-1.65 1.65l-1.65 -1.65zM532.5 323.85l1.65 1.65l-1.65 1.65l-1.65 -1.65zM533.5 323.85l1.65 1.65l-1.65 1.65l-1.65 -1.65zM535.5 322.85l1.65 1.65l-1.65 1.65l-1.65 -1.65zM536.5 322.85l1.65 1.65l-1.65 1.65l-1.65 -1.65zM538.5 318.85l1.65 1.65l-1.65 1.65l-1.65 -1.65zM540.5 316.85l1.65 1.65l-1.65 1.65l-1.65 -1.65zM541.5 315.85l1.65 1.65l-1.65 1.65l-1.65 -1.65zM543.5 324.85l1.65 1.65l-1.65 1.65l-1.65 -1.65zM545.5 322.85l1.65 1.65l-1.65 1.65l-1.65 -1.65zM546.5 321.85l1.65 1.65l-1.65 1.65l-1.65 -1.65zM548.5 320.85l1.65 1.65l-1.65 1.65l-1.65 -1.65zM549.5 320.85l1.65 1.65l-1.65 1.65l-1.65 -1.65zM551.5 321.85l1.65 1.65l-1.65 1.65l-1.65 -1.65zM553.5 322.85l1.65 1.65l-1.65 1.65l-1.65 -1.65zM554.5 322.85l1.65 1.65l-1.65 1.65l-1.65 -1.65zM556.5 322.85l1.65 1.65l-1.65 1.65l-1.65 -1.65zM558.5 322.85l1.65 1.65l-1.65 1.65l-1.65 -1.65zM559.5 322.85l1.65 1.65l-1.65 1.65l-1.65 -1.65zM561.5 321.85l1.65 1.65l-1.65 1.65l-1.65 -1.65zM562.5 320.85l1.65 1.65l-1.65 1.65l-1.65 -1.65zM564.5 319.85l1.65 1.65l-1.65 1.65l-1.65 -1.65zM566.5 318.85l1.65 1.65l-1.65 1.65l-1.65 -1.65zM567.5 317.85l1.65 1.65l-1.65 1.65l-1.65 -1.65zM569.5 315.85l1.65 1.65l-1.65 1.65l-1.65 -1.65zM571.5 313.85l1.65 1.65l-1.65 1.65l-1.65 -1.65zM572.5 311.85l1.65 1.65l-1.65 1.65l-1.65 -1.65zM574.5 308.85l1.65 1.65l-1.65 1.65l-1.65 -1.65zM575.5 305.85l1.65 1.65l-1.65 1.65l-1.65 -1.65zM577.5 304.85l1.65 1.65l-1.65 1.65l-1.65 -1.65zM579.5 303.85l1.65 1.65l-1.65 1.65l-1.65 -1.65zM580.5 302.85l1.65 1.65l-1.65 1.65l-1.65 -1.65zM582.5 302.85l1.65 1.65l-1.65 1.65l-1.65 -1.65zM584.5 303.85l1.65 1.65l-1.65 1.65l-1.65 -1.65zM585.5 302.85l1.65 1.65l-1.65 1.65l-1.65 -1.65zM587.5 299.85l1.65 1.65l-1.65 1.65l-1.65 -1.65zM588.5 297.85l1.65 1.65l-1.65 1.65l-1.65 -1.65zM590.5 295.85l1.65 1.65l-1.65 1.65l-1.65 -1.65zM592.5 293.85l1.65 1.65l-1.65 1.65l-1.65 -1.65zM593.5 290.85l1.65 1.65l-1.65 1.65l-1.65 -1.65zM595.5 288.85l1.65 1.65l-1.65 1.65l-1.65 -1.65zM597.5 285.85l1.65 1.65l-1.65 1.65l-1.65 -1.65zM598.5 282.85l1.65 1.65l-1.65 1.65l-1.65 -1.65zM600.5 281.85l1.65 1.65l-1.65 1.65l-1.65 -1.65zM601.5 280.85l1.65 1.65l-1.65 1.65l-1.65 -1.65zM603.5 281.85l1.65 1.65l-1.65 1.65l-1.65 -1.65zM605.5 282.85l1.65 1.65l-1.65 1.65l-1.65 -1.65zM606.5 283.85l1.65 1.65l-1.65 1.65l-1.65 -1.65zM608.5 284.85l1.65 1.65l-1.65 1.65l-1.65 -1.65zM610.5 285.85l1.65 1.65l-1.65 1.65l-1.65 -1.65zM611.5 287.85l1.65 1.65l-1.65 1.65l-1.65 -1.65zM613.5 288.85l1.65 1.65l-1.65 1.65l-1.65 -1.65zM614.5 287.85l1.65 1.65l-1.65 1.65l-1.65 -1.65zM616.5 285.85l1.65 1.65l-1.65 1.65l-1.65 -1.65zM618.5 281.85l1.65 1.65l-1.65 1.65l-1.65 -1.65zM619.5 278.85l1.65 1.65l-1.65 1.65l-1.65 -1.65zM621.5 275.85l1.65 1.65l-1.65 1.65l-1.65 -1.65zM623.5 274.85l1.65 1.65l-1.65 1.65l-1.65 -1.65zM624.5 272.85l1.65 1.65l-1.65 1.65l-1.65 -1.65zM626.5 270.85l1.65 1.65l-1.65 1.65l-1.65 -1.65zM627.5 269.85l1.65 1.65l-1.65 1.65l-1.65 -1.65zM629.5 268.85l1.65 1.65l-1.65 1.65l-1.65 -1.65zM631.5 266.85l1.65 1.65l-1.65 1.65l-1.65 -1.65zM632.5 263.85l1.65 1.65l-1.65 1.65l-1.65 -1.65zM634.5 260.85l1.65 1.65l-1.65 1.65l-1.65 -1.65zM636.5 261.85l1.65 1.65l-1.65 1.65l-1.65 -1.65zM637.5 262.85l1.65 1.65l-1.65 1.65l-1.65 -1.65zM639.5 265.85l1.65 1.65l-1.65 1.65l-1.65 -1.65zM640.5 267.85l1.65 1.65l-1.65 1.65l-1.65 -1.65zM642.5 269.85l1.65 1.65l-1.65 1.65l-1.65 -1.65zM644.5 272.85l1.65 1.65l-1.65 1.65l-1.65 -1.65zM645.5 275.85l1.65 1.65l-1.65 1.65l-1.65 -1.65zM647.5 277.85l1.65 1.65l-1.65 1.65l-1.65 -1.65zM648.5 279.85l1.65 1.65l-1.65 1.65l-1.65 -1.65zM650.5 280.85l1.65 1.65l-1.65 1.65l-1.65 -1.65zM652.5 281.85l1.65 1.65l-1.65 1.65l-1.65 -1.65zM653.5 282.85l1.65 1.65l-1.65 1.65l-1.65 -1.65zM655.5 282.85l1.65 1.65l-1.65 1.65l-1.65 -1.65zM657.5 282.85l1.65 1.65l-1.65 1.65l-1.65 -1.65zM658.5 282.85l1.65 1.65l-1.65 1.65l-1.65 -1.65zM660.5 281.85l1.65 1.65l-1.65 1.65l-1.65 -1.65zM661.5 281.85l1.65 1.65l-1.65 1.65l-1.65 -1.65zM663.5 280.85l1.65 1.65l-1.65 1.65l-1.65 -1.65zM665.5 281.85l1.65 1.65l-1.65 1.65l-1.65 -1.65zM666.5 280.85l1.65 1.65l-1.65 1.65l-1.65 -1.65zM668.5 277.85l1.65 1.65l-1.65 1.65l-1.65 -1.65zM670.5 272.85l1.65 1.65l-1.65 1.65l-1.65 -1.65zM671.5 261.85l1.65 1.65l-1.65 1.65l-1.65 -1.65zM673.5 253.85l1.65 1.65l-1.65 1.65l-1.65 -1.65zM674.5 246.85l1.65 1.65l-1.65 1.65l-1.65 -1.65zM676.5 238.85l1.65 1.65l-1.65 1.65l-1.65 -1.65zM678.5 231.85l1.65 1.65l-1.65 1.65l-1.65 -1.65zM679.5 223.85l1.65 1.65l-1.65 1.65l-1.65 -1.65zM681.5 220.85l1.65 1.65l-1.65 1.65l-1.65 -1.65zM683.5 222.85l1.65 1.65l-1.65 1.65l-1.65 -1.65zM684.5 224.85l1.65 1.65l-1.65 1.65l-1.65 -1.65zM686.5 226.85l1.65 1.65l-1.65 1.65l-1.65 -1.65zM687.5 229.85l1.65 1.65l-1.65 1.65l-1.65 -1.65zM689.5 232.85l1.65 1.65l-1.65 1.65l-1.65 -1.65zM691.5 233.85l1.65 1.65l-1.65 1.65l-1.65 -1.65zM692.5 235.85l1.65 1.65l-1.65 1.65l-1.65 -1.65zM694.5 236.85l1.65 1.65l-1.65 1.65l-1.65 -1.65zM696.5 238.85l1.65 1.65l-1.65 1.65l-1.65 -1.65zM697.5 239.85l1.65 1.65l-1.65 1.65l-1.65 -1.65zM699.5 240.85l1.65 1.65l-1.65 1.65l-1.65 -1.65zM700.5 241.85l1.65 1.65l-1.65 1.65l-1.65 -1.65zM702.5 242.85l1.65 1.65l-1.65 1.65l-1.65 -1.65zM704.5 240.85l1.65 1.65l-1.65 1.65l-1.65 -1.65zM705.5 238.85l1.65 1.65l-1.65 1.65l-1.65 -1.65zM707.5 232.85l1.65 1.65l-1.65 1.65l-1.65 -1.65zM709.5 226.85l1.65 1.65l-1.65 1.65l-1.65 -1.65zM710.5 217.85l1.65 1.65l-1.65 1.65l-1.65 -1.65zM712.5 210.85l1.65 1.65l-1.65 1.65l-1.65 -1.65zM713.5 210.85l1.65 1.65l-1.65 1.65l-1.65 -1.65zM715.5 210.85l1.65 1.65l-1.65 1.65l-1.65 -1.65zM717.5 211.85l1.65 1.65l-1.65 1.65l-1.65 -1.65zM718.5 215.85l1.65 1.65l-1.65 1.65l-1.65 -1.65zM720.5 220.85l1.65 1.65l-1.65 1.65l-1.65 -1.65zM722.5 223.85l1.65 1.65l-1.65 1.65l-1.65 -1.65zM723.5 230.85l1.65 1.65l-1.65 1.65l-1.65 -1.65zM725.5 237.85l1.65 1.65l-1.65 1.65l-1.65 -1.65zM726.5 241.85l1.65 1.65l-1.65 1.65l-1.65 -1.65zM728.5 243.85l1.65 1.65l-1.65 1.65l-1.65 -1.65zM730.5 246.85l1.65 1.65l-1.65 1.65l-1.65 -1.65zM731.5 250.85l1.65 1.65l-1.65 1.65l-1.65 -1.65zM733.5 253.85l1.65 1.65l-1.65 1.65l-1.65 -1.65zM735.5 255.85l1.65 1.65l-1.65 1.65l-1.65 -1.65zM736.5 258.85l1.65 1.65l-1.65 1.65l-1.65 -1.65zM738.5 261.85l1.65 1.65l-1.65 1.65l-1.65 -1.65zM739.5 265.85l1.65 1.65l-1.65 1.65l-1.65 -1.65zM741.5 268.85l1.65 1.65l-1.65 1.65l-1.65 -1.65zM743.5 270.85l1.65 1.65l-1.65 1.65l-1.65 -1.65zM744.5 272.85l1.65 1.65l-1.65 1.65l-1.65 -1.65zM746.5 273.85l1.65 1.65l-1.65 1.65l-1.65 -1.65zM748.5 275.85l1.65 1.65l-1.65 1.65l-1.65 -1.65zM749.5 277.85l1.65 1.65l-1.65 1.65l-1.65 -1.65zM751.5 280.85l1.65 1.65l-1.65 1.65l-1.65 -1.65zM752.5 283.85l1.65 1.65l-1.65 1.65l-1.65 -1.65zM754.5 285.85l1.65 1.65l-1.65 1.65l-1.65 -1.65zM756.5 287.85l1.65 1.65l-1.65 1.65l-1.65 -1.65zM757.5 290.85l1.65 1.65l-1.65 1.65l-1.65 -1.65zM759.5 291.85l1.65 1.65l-1.65 1.65l-1.65 -1.65zM761.5 288.85l1.65 1.65l-1.65 1.65l-1.65 -1.65zM762.5 275.85l1.65 1.65l-1.65 1.65l-1.65 -1.65z" fill="#ED7D31"/>
<text class="ttl" y="20.0"><tspan x="136.2" textLength="105.2" lengthAdjust="spacingAndGlyphs">Rioolwaarden</tspan> <tspan x="245.5" textLength="41.8" lengthAdjust="spacingAndGlyphs">RIVM</tspan> <tspan x="291.2" textLength="79.8" lengthAdjust="spacingAndGlyphs">Sars-Cov-2</tspan> <tspan x="374.8" textLength="30.5" lengthAdjust="spacingAndGlyphs">met</tspan> <tspan x="409.7" textLength="68.9" lengthAdjust="spacingAndGlyphs">gewogen</tspan> <tspan x="482.5" textLength="59.4" lengthAdjust="spacingAndGlyphs">7-daags</tspan> <tspan x="545.5" textLength="89.4" lengthAdjust="spacingAndGlyphs">gemiddelde</tspan></text>
<path d="M252.5 438.5H277.4" stroke="#ED7D31" stroke-width="3" stroke-linecap="round"/>
<text class="lg" y="442.0"><tspan x="280.6" textLength="12.3" lengthAdjust="spacingAndGlyphs">7d</tspan> <tspan x="295.2" textLength="45.0" lengthAdjust="spacingAndGlyphs">gewogen</tspan> <tspan x="342.3" textLength="21.8" lengthAdjust="spacingAndGlyphs">gem</tspan> <tspan x="365.7" textLength="23.5" lengthAdjust="spacingAndGlyphs">riool</tspan> <tspan x="391.8" textLength="21.4" lengthAdjust="spacingAndGlyphs">RNA</tspan></text>
<path d="M433 438.5H460" stroke="#ED7D31" stroke-width="1.2"/>
<path d="M446.5 436.8l1.5 1.7l-1.5 1.7l-1.5 -1.7z" fill="#ED7D31"/>
<text class="lg" y="442.0"><tspan x="462.2" textLength="20.6" lengthAdjust="spacingAndGlyphs">RNA</tspan><tspan x="483.6" textLength="40.6" lengthAdjust="spacingAndGlyphs">_per_ml</tspan></text>
</svg>
</body></html>
